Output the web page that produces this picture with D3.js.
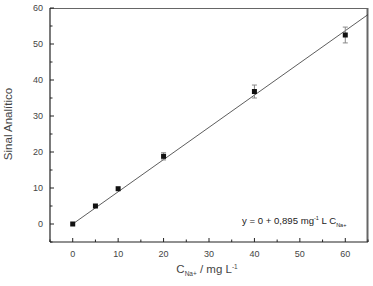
<!DOCTYPE html>
<html><head><meta charset="utf-8">
<script src="https://cdn.jsdelivr.net/npm/d3@7"></script>
<style>body{margin:0;background:#fff}svg{display:block}text{font-family:"Liberation Sans",Arial,sans-serif}</style>
</head><body>
<svg id="c" width="373" height="286"></svg>
<script>
const xVals = [0, 5, 10, 20, 40, 60];
const yVals = [0, 5, 9.8, 18.8, 36.8, 52.5];
const yErr = [0, 0, 0, 1.0, 1.8, 2.2];
const slope = 0.895;
const xTicks = [0, 10, 20, 30, 40, 50, 60];
const yTicks = [0, 10, 20, 30, 40, 50, 60];

const svg = d3.select("#c");
const L = 50, R = 368, T = 8, B = 242;
const x = d3.scaleLinear().domain([-5, 65]).range([L, R]);
const y = d3.scaleLinear().domain([-5, 60]).range([B, T]);
const txt = "#444";

// frame
svg.append("line").attr("x1", L).attr("x2", R).attr("y1", T + 0.5).attr("y2", T + 0.5).attr("stroke", "#666").attr("stroke-width", 1);
svg.append("line").attr("x1", R - 0.5).attr("x2", R - 0.5).attr("y1", T).attr("y2", B).attr("stroke", "#666").attr("stroke-width", 2);

// bottom axis
const gx = svg.append("g").attr("transform", `translate(0,${B})`);
gx.append("line").attr("x1", L).attr("x2", R).attr("stroke", "#222").attr("stroke-width", 1.2);
d3.range(-5, 66, 5).forEach(v => {
  const major = v % 10 === 0;
  gx.append("line").attr("x1", x(v)).attr("x2", x(v)).attr("y1", 0).attr("y2", major ? -4 : -2.5).attr("stroke", "#222");
});
xTicks.forEach(v => gx.append("text").attr("x", x(v)).attr("y", 15).attr("text-anchor", "middle").attr("font-size", 9).attr("fill", txt).text(v));

// left axis
const gy = svg.append("g").attr("transform", `translate(${L},0)`);
gy.append("line").attr("y1", T).attr("y2", B).attr("stroke", "#222").attr("stroke-width", 1.2);
d3.range(-5, 61, 5).forEach(v => {
  const major = v % 10 === 0;
  gy.append("line").attr("y1", y(v)).attr("y2", y(v)).attr("x1", 0).attr("x2", major ? 4 : 2.5).attr("stroke", "#222");
});
yTicks.forEach(v => gy.append("text").attr("x", -7).attr("y", y(v) + 3).attr("text-anchor", "end").attr("font-size", 9).attr("fill", txt).text(v));

// fit line
svg.append("line").attr("x1", x(0)).attr("y1", y(0)).attr("x2", x(65)).attr("y2", y(65 * slope))
  .attr("stroke", "#333").attr("stroke-width", 0.8);

// error bars
xVals.forEach((v, i) => {
  if (!yErr[i]) return;
  const cx = x(v), y1 = y(yVals[i] - yErr[i]), y2 = y(yVals[i] + yErr[i]);
  svg.append("line").attr("x1", cx).attr("x2", cx).attr("y1", y1).attr("y2", y2).attr("stroke", "#888");
  [y1, y2].forEach(yy => svg.append("line").attr("x1", cx - 2.5).attr("x2", cx + 2.5).attr("y1", yy).attr("y2", yy).attr("stroke", "#888"));
});

// points
svg.selectAll("rect.p").data(xVals).enter().append("rect")
  .attr("x", d => x(d) - 2.5).attr("y", (d, i) => y(yVals[i]) - 2.5)
  .attr("width", 5).attr("height", 5).attr("fill", "#111");

// equation
const eq = svg.append("text").attr("x", 242).attr("y", 224).attr("font-size", 9.6).attr("fill", "#222");
eq.append("tspan").text("y = 0 + 0,895 mg");
eq.append("tspan").attr("font-size", 5.5).attr("dy", -4).text("-1");
eq.append("tspan").attr("dy", 4).text(" L C");
eq.append("tspan").attr("font-size", 5.5).attr("dy", 2.5).text("Na+");

// x label
const xl = svg.append("text").attr("x", 207).attr("y", 273).attr("text-anchor", "middle").attr("font-size", 11.5).attr("fill", txt);
xl.append("tspan").text("C");
xl.append("tspan").attr("font-size", 6.5).attr("dy", 2.5).text("Na+");
xl.append("tspan").attr("dy", -2.5).text(" / mg L");
xl.append("tspan").attr("font-size", 6.5).attr("dy", -4.5).text("-1");

// y label
svg.append("text").attr("transform", `translate(12,124) rotate(-90)`).attr("text-anchor", "middle")
  .attr("font-size", 11.5).attr("fill", txt).text("Sinal Analítico");
</script>
</body></html>
